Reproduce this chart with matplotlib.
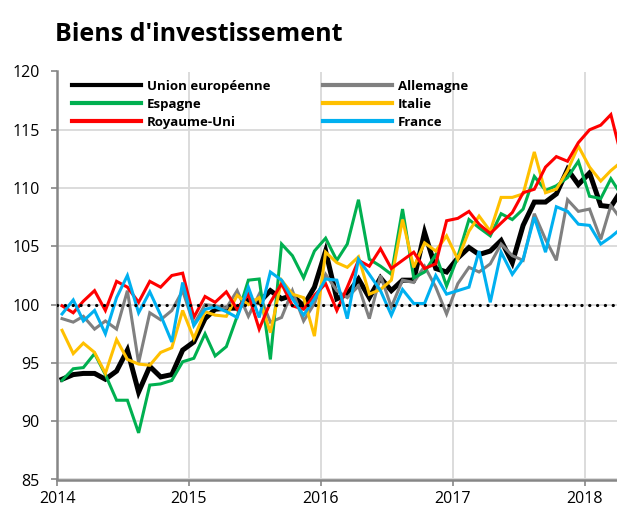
import numpy as np
import pandas as pd
import matplotlib
matplotlib.use("Agg")
import matplotlib.pyplot as plt
import matplotlib.dates as mdates

plt.rcParams['font.family'] = ['Open Sans', 'DejaVu Sans']

# monthly index, Jan 2014 - Apr 2018
months = pd.date_range('2014-01-01', periods=52, freq='MS') + pd.Timedelta(days=14)

ue = [93.6, 94.0, 94.1, 94.1, 93.6, 94.3, 96.1, 92.5, 94.7, 93.8, 94.0, 96.1,
      96.8, 98.8, 99.6, 99.7, 99.7, 100.4, 100.2, 101.2, 100.5, 100.8, 99.9, 101.5,
      104.6, 100.5, 100.9, 102.2, 100.6, 102.3, 101.2, 102.1, 102.1, 106.2, 103.1, 102.8,
      104.0, 104.9, 104.3, 104.6, 105.5, 103.6, 106.8, 108.8, 108.8, 109.5, 111.6, 110.3,
      111.3, 108.5, 108.4, 109.9]
allemagne = [98.8, 98.5, 99.0, 97.9, 98.6, 97.9, 101.2, 95.0, 99.3, 98.7, 99.5, 101.2,
             98.3, 100.0, 99.9, 99.7, 101.2, 99.0, 100.9, 98.5, 98.9, 101.2, 98.6, 100.1,
             102.6, 101.2, 100.6, 101.6, 98.8, 102.5, 99.8, 102.1, 101.9, 103.3, 101.5, 99.2,
             101.8, 103.2, 102.8, 103.5, 105.2, 104.2, 103.8, 107.8, 105.6, 103.8, 109.0, 108.0,
             108.2, 105.6, 108.5, 107.2]
espagne = [93.5, 94.5, 94.6, 95.8, 94.0, 91.8, 91.8, 89.0, 93.1, 93.2, 93.5, 95.1,
           95.4, 97.5, 95.6, 96.4, 99.0, 102.1, 102.2, 95.3, 105.2, 104.2, 102.3, 104.6,
           105.7, 103.8, 105.2, 109.0, 103.9, 103.3, 102.6, 108.2, 102.3, 102.8, 104.3, 101.6,
           104.1, 107.3, 106.6, 105.9, 107.8, 107.3, 108.2, 111.0, 109.8, 110.2, 110.9, 112.3,
           109.3, 109.1, 110.8, 109.3]
italie = [97.8, 95.8, 96.7, 95.9, 94.1, 97.0, 95.3, 94.9, 94.8, 95.9, 96.3, 99.5,
          97.1, 99.4, 99.1, 99.0, 100.8, 100.0, 100.6, 97.6, 102.1, 100.9, 100.6, 97.3,
          104.5, 103.6, 103.2, 104.1, 100.9, 101.3, 102.1, 107.3, 103.2, 105.3, 104.6, 105.9,
          103.9, 106.3, 107.6, 106.3, 109.2, 109.2, 109.5, 113.1, 109.6, 109.9, 111.5, 113.6,
          111.8, 110.6, 111.5, 112.3]
royaume_uni = [99.9, 99.3, 100.3, 101.2, 99.5, 102.0, 101.5, 100.2, 102.0, 101.5, 102.5, 102.7,
               98.9, 100.7, 100.2, 101.1, 99.6, 100.9, 97.9, 100.2, 101.8, 99.9, 99.6, 100.8,
               101.8, 99.5, 101.5, 103.8, 103.3, 104.8, 103.1, 103.8, 104.5, 103.1, 103.5, 107.2,
               107.4, 108.0, 106.9, 106.1, 107.0, 107.9, 109.6, 109.9, 111.8, 112.7, 112.3, 113.9,
               115.0, 115.4, 116.3, 112.5]
france = [99.2, 100.4, 98.6, 99.5, 97.5, 100.6, 102.5, 99.3, 101.1, 99.1, 96.8, 101.9,
          98.2, 99.6, 99.8, 99.4, 98.9, 101.5, 98.9, 102.8, 102.1, 100.5, 99.1, 100.5,
          102.2, 102.1, 98.8, 103.9, 102.6, 101.2, 99.1, 101.3, 100.1, 100.1, 102.5, 100.9,
          101.2, 101.5, 104.6, 100.2, 104.5, 102.6, 103.9, 107.5, 104.5, 108.4, 108.0, 106.9,
          106.8, 105.2, 105.8, 106.6]

series = [
    ("Union européenne", ue, "#000000", 3.6),
    ("Allemagne", allemagne, "#808080", 2.2),
    ("Espagne", espagne, "#00b050", 2.2),
    ("Italie", italie, "#ffc000", 2.2),
    ("Royaume-Uni", royaume_uni, "#ff0000", 2.2),
    ("France", france, "#00b0f0", 2.2),
]

fig = plt.figure(figsize=(6.17, 5.08), dpi=100)
ax = fig.add_axes([57 / 617, 28.5 / 508, 560 / 617, 408 / 508])

lines = {}
for name, vals, col, lw in series:
    ln, = ax.plot(months, vals, color=col, lw=lw, label=name, solid_joinstyle='miter')
    lines[name] = ln

ax.axhline(100, color='black', lw=2.3, linestyle=(0, (0.05, 2.4)),
           dash_capstyle='round', zorder=5)

ax.set_ylim(85, 120)
ax.set_yticks(range(85, 121, 5))
ax.set_xlim(pd.Timestamp('2014-01-01'), pd.Timestamp('2018-04-01'))
ax.xaxis.set_major_locator(mdates.YearLocator())
ax.xaxis.set_major_formatter(mdates.DateFormatter('%Y'))

ax.grid(True, color='#d9d9d9', lw=1.3)
ax.set_axisbelow(True)
for s in ['top', 'right']:
    ax.spines[s].set_visible(False)
for s in ['left', 'bottom']:
    ax.spines[s].set_color('#868686')
    ax.spines[s].set_linewidth(1.8)
ax.tick_params(axis='both', colors='#868686', labelcolor='black', labelsize=11.5,
               length=4.5, width=1.2)
ax.tick_params(axis='y', pad=8)
ax.tick_params(axis='x', pad=4)

leg_kw = dict(frameon=False, loc='upper left', borderpad=0, borderaxespad=0,
              handlelength=5.2, handletextpad=0.5, labelspacing=0.38,
              prop={'weight': 'bold', 'size': 9.5})
leg1 = ax.legend([lines[n] for n in ["Union européenne", "Espagne", "Royaume-Uni"]],
                 ["Union européenne", "Espagne", "Royaume-Uni"],
                 bbox_to_anchor=(15 / 560, 0.98), **leg_kw)
ax.add_artist(leg1)
ax.legend([lines[n] for n in ["Allemagne", "Italie", "France"]],
          ["Allemagne", "Italie", "France"],
          bbox_to_anchor=(266 / 560, 0.98), **leg_kw)
for lg in (leg1, ax.get_legend()):
    for h in lg.get_lines():
        h.set_linewidth(3)

fig.text(55 / 617, 1 - 41 / 508, "Biens d'investissement", fontsize=18,
         fontweight='bold', va='baseline')

fig.savefig('out.png', dpi=100)
